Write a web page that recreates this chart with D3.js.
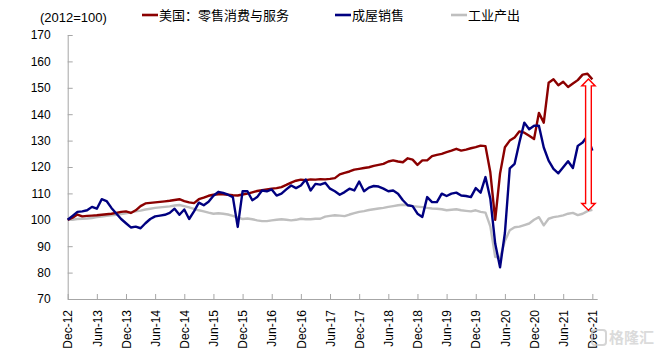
<!DOCTYPE html>
<html><head><meta charset="utf-8">
<script src="https://cdn.jsdelivr.net/npm/d3@7"></script>
<style>html,body{margin:0;padding:0;background:#fff;} svg{display:block;}</style>
</head><body><svg id="chart" width="661" height="355"></svg>
<script>
// Months: Dec-2012 .. Dec-2021 (109 monthly points), index 0..108
const firstMonth = "2012-12";
const monthCount = 109;
const tickLabels = ["Dec-12","Jun-13","Dec-13","Jun-14","Dec-14","Jun-15","Dec-15","Jun-16","Dec-16","Jun-17","Dec-17","Jun-18","Dec-18","Jun-19","Dec-19","Jun-20","Dec-20","Jun-21","Dec-21"];
const yTicks = [70,80,90,100,110,120,130,140,150,160,170];
const seriesNames = ["美国：零售消费与服务","成屋销售","工业产出"];
const unitLabel = "(2012=100)";

const retail = [100,100.8,102,101.3,101.5,101.6,101.7,101.9,102.1,102.3,102.6,103,
103.2,102.6,103.6,105.2,106.2,106.4,106.6,106.8,107,107.2,107.5,107.8,
107.1,106.6,106.3,107.8,108.4,109.1,109.5,109.7,109.7,109.5,109.3,109.2,
109.6,109.9,110.4,110.9,111.2,111.5,111.8,112,112.4,113.2,114.1,114.8,
115.2,115,115.3,115.2,115.4,115.3,115.5,115.8,117.2,117.8,118.3,119,
119.3,119.6,119.9,120.4,120.8,121.2,122.1,122.5,122.1,121.8,123.3,122.8,
120.8,122.5,122.5,124.1,124.6,125,125.6,126.2,126.9,126.2,126.6,127.1,
127.5,128.1,127.9,118,100,117.5,127.5,130,131.2,133.5,133,131.8,
130.6,140.5,136.8,151.9,153.2,151,152.3,150.3,151.6,152.9,155,155.3,153.2];

const homeSales = [100,101.5,103,103.2,103.6,104.9,104.2,107.8,107.1,104.5,102.4,100.3,
98.7,97.1,97.4,96.8,98.7,100.3,101.3,101.6,101.9,102.6,104.2,101.9,
103.9,100.3,103.2,106.5,105.5,106.8,109.1,110.6,110.2,109.5,108.6,97.3,
110.8,110.8,107.4,108.6,111.1,110.8,111.5,109.2,109.9,111.5,113,112,
113,115.3,111.1,113.6,113.3,114,111.8,110.8,109.5,110.5,111.8,111.1,
114.5,110.8,112.2,112.8,112.6,111.8,110.8,111.1,109.9,107.4,105.5,105.2,
102.3,101.1,108.6,106.7,106.7,109.9,109,109.9,110.3,109.2,109,108.6,
112,110.3,116.2,108,91,82,95,119.5,121.2,129.5,136.8,134.3,
135.6,135.6,127.4,122.4,119.3,117.6,119.9,122.2,119.6,128,129.3,131.8,126.2];

const industrial = [100,100,100.3,100.4,100.5,100.7,101,101.2,101.5,101.7,101.9,102.2,
102.5,102.8,103.2,103.5,103.9,104.2,104.5,104.7,104.9,105.1,105.4,105.6,
105.2,104.7,104.1,103.6,103.2,102.7,102.3,102.5,102.3,102,101.5,100.8,
100.3,100.5,100.2,99.8,99.5,99.5,99.8,100,100.2,100,99.8,100,
100.4,100.2,100.2,100.4,100.4,101.2,101.5,101.7,101.6,101.4,102,102.5,
103,103.3,103.7,104,104.3,104.5,104.9,105.2,105.5,105.7,105.5,105.2,
105,104.8,104.5,104.3,104.2,104,103.6,103.8,104,103.6,103.4,103.2,
103.6,103,102.7,97.5,86,85.5,92,96,97.2,97.4,98,98.6,
100,101,97.9,100.4,101,101.3,101.7,102.3,102.6,101.8,102.3,103.3,103.8];

const arrowNote = {index: 107.2, top: 153.3, bottom: 103.6};

const colors = {retail:"#8B0000", homeSales:"#000080", industrial:"#BFBFBF"};

const svg = d3.select("#chart");
const x = d3.scaleLinear().domain([0, monthCount]).range([67.7, 597.2]);
const y = d3.scaleLinear().domain([70, 170]).range([299, 35]);
const axisColor = "#A6A6A6";

// Y axis
const yAxis = svg.append("g").attr("transform", `translate(${x(0)},0)`)
  .call(d3.axisLeft(y).tickValues(yTicks).tickSizeInner(-5).tickSizeOuter(0).tickPadding(17));
yAxis.select(".domain").attr("stroke", axisColor);
yAxis.selectAll(".tick line").attr("stroke", axisColor);
yAxis.selectAll(".tick text").attr("font-family","Liberation Sans, Arial, sans-serif").attr("font-size",12).attr("fill","#000");

// X axis
const tickIdx = tickLabels.map((d,i)=>i*6);
const xAxis = svg.append("g").attr("transform", `translate(0,${y(70)})`)
  .call(d3.axisBottom(x).tickValues(tickIdx).tickFormat((d,i)=>tickLabels[i]).tickSizeInner(-5).tickSizeOuter(0));
xAxis.select(".domain").attr("stroke", axisColor);
xAxis.selectAll(".tick line").attr("stroke", axisColor);
xAxis.selectAll(".tick text")
  .attr("font-family","Liberation Sans, Arial, sans-serif").attr("font-size",12).attr("fill","#000")
  .attr("text-anchor","end").attr("transform","rotate(-90)")
  .attr("x",-11).attr("y",0).attr("dy","0.35em");

// Lines
const line = d3.line().x((d,i)=>x(i)).y(d=>y(d));
const series = [
  {key:"industrial", data:industrial},
  {key:"retail", data:retail},
  {key:"homeSales", data:homeSales}
];
svg.append("g").selectAll("path").data(series).join("path")
  .attr("d", d=>line(d.data)).attr("fill","none")
  .attr("stroke", d=>colors[d.key]).attr("stroke-width",2.4)
  .attr("stroke-linejoin","round");

// Double-headed hollow arrow
const ax = x(arrowNote.index), yt = y(arrowNote.top), yb = y(arrowNote.bottom);
const hw = 6.7, sw = 2.85, hh = 6.8;
const pts = [[ax,yt],[ax+hw,yt+hh],[ax+sw,yt+hh],[ax+sw,yb-hh],[ax+hw,yb-hh],[ax,yb],
  [ax-hw,yb-hh],[ax-sw,yb-hh],[ax-sw,yt+hh],[ax-hw,yt+hh]];
svg.append("polygon").attr("points", pts.map(p=>p.join(",")).join(" "))
  .attr("fill","#fff").attr("stroke","#FF0000").attr("stroke-width",1.4).attr("stroke-linejoin","miter");

// Unit label
svg.append("text").attr("x",40).attr("y",21.5).text(unitLabel)
  .attr("font-family","Liberation Sans, Arial, sans-serif").attr("font-size",13).attr("fill","#000");

// Legend
const legendX = [142, 335, 451];
const legendKeys = ["retail","homeSales","industrial"];
const lg = svg.append("g").selectAll("g").data(legendKeys).join("g")
  .attr("transform",(d,i)=>`translate(${legendX[i]},15)`);
lg.append("line").attr("x1",0).attr("x2",16).attr("y1",0).attr("y2",0)
  .attr("stroke",d=>colors[d]).attr("stroke-width",2.6);
lg.append("text").attr("x",17).attr("y",0).attr("dy","0.36em")
  .text((d,i)=>seriesNames[i])
  .attr("font-family","Noto Sans CJK SC, sans-serif").attr("font-size",13).attr("fill","#000");

// Watermark
const wm = svg.append("g").attr("transform","translate(592,329)").attr("opacity",0.75);
wm.append("rect").attr("x",0).attr("y",1).attr("width",14).attr("height",15).attr("rx",3)
  .attr("fill","none").attr("stroke","#c8c8c8").attr("stroke-width",2);
wm.append("text").attr("x",17).attr("y",14).text("格隆汇")
  .attr("font-family","Noto Sans CJK SC, sans-serif").attr("font-size",15).attr("font-weight","bold").attr("fill","#cfcfcf");
</script></body></html>
